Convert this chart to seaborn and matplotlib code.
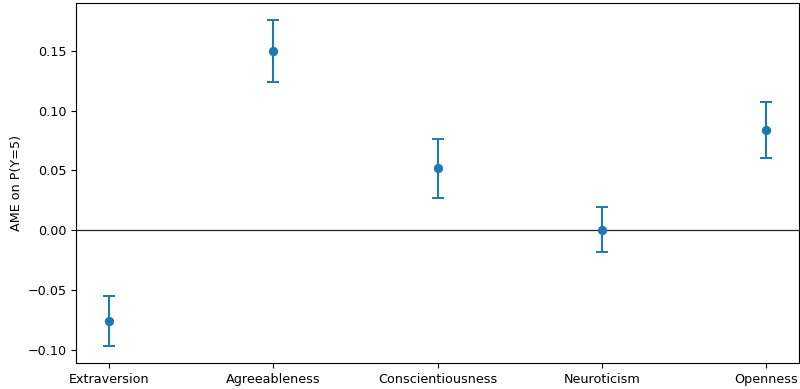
import matplotlib
matplotlib.use("Agg")
import matplotlib.pyplot as plt
import seaborn as sns
import pandas as pd

traits = ["Extraversion", "Agreeableness", "Conscientiousness", "Neuroticism", "Openness"]
ame = [-0.0758, 0.150, 0.0517, 0.0005, 0.0838]
ci_low = [-0.0970, 0.1240, 0.0272, -0.0182, 0.0603]
ci_high = [-0.0550, 0.1755, 0.0760, 0.0192, 0.1070]

df = pd.DataFrame({"trait": traits, "ame": ame, "lo": ci_low, "hi": ci_high})

plt.rcParams["font.size"] = 9.2

fig = plt.figure(figsize=(8.0, 3.89), dpi=100)
ax = fig.add_axes([76 / 800, 26 / 389, 723 / 800, 360 / 389])

color = "#1f77b4"
xpos = list(range(len(traits)))
ax.errorbar(xpos, df["ame"],
            yerr=[df["ame"] - df["lo"], df["hi"] - df["ame"]],
            fmt="none", ecolor=color, elinewidth=1.5, capsize=4, capthick=1.4,
            zorder=3)
sns.scatterplot(x=xpos, y=df["ame"], ax=ax, color=color, s=45,
                edgecolor=color, linewidth=0, zorder=4, legend=False)

ax.axhline(0, color="#222222", linewidth=0.9, zorder=1)

ax.set_xticks(xpos)
ax.set_xticklabels(traits)
ax.set_xlim(-0.2, 4.2)
ax.set_ylim(-0.111, 0.19)
ax.set_yticks([-0.10, -0.05, 0.0, 0.05, 0.10, 0.15])
ax.set_ylabel("AME on P(Y=5)", labelpad=3)
ax.set_xlabel("")

fig.savefig("out.png", dpi=100)
